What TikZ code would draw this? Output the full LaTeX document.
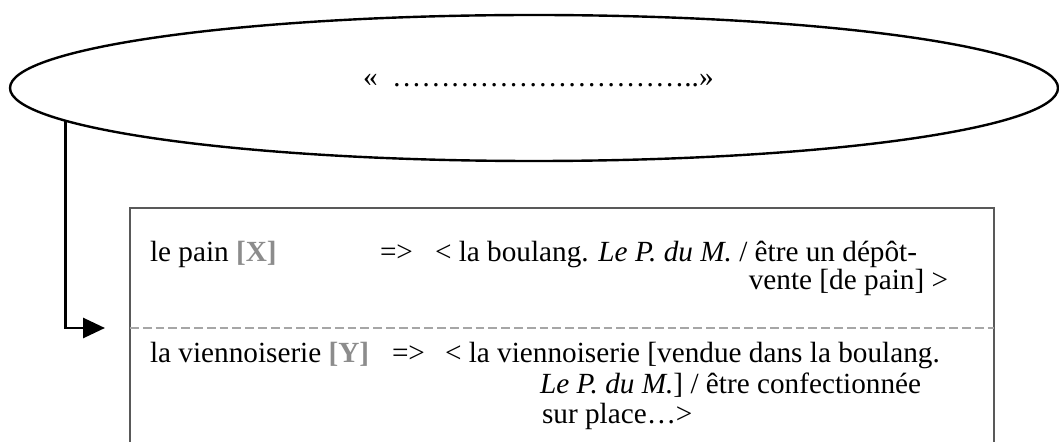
\documentclass[tikz,border=0pt]{standalone}
\usepackage{fontspec}
\setmainfont{Liberation Serif}
\usepackage{tikz}
\usetikzlibrary{calc,positioning,arrows.meta,shapes.geometric}

\begin{document}
\begin{tikzpicture}[baseline,every node/.style={inner sep=0pt,outer sep=0pt,font=\fontsize{20.8}{24}\selectfont}]
		%\draw[color=gray,step=1mm, help lines,opacity=0.3] (0mm,0mm) grid (265mm,110mm); %help grids
		\useasboundingbox (0mm,0mm) rectangle (264.75mm,110.25mm);
		\def\crochet#1{\textcolor{black!45}{\textbf{[#1]}}}
		\def\pts{…}
		\node[draw,ellipse,line width=0.6mm,minimum width=262mm,minimum height=36.5mm] (bulle) at (133.5mm,88.25mm) {};
		\node[anchor=base west] (guill) at (90.75mm,88.5mm) {«\hspace{3.6mm}\pts\pts\pts\pts\pts\pts\pts\pts\pts\pts..»};
		\node[draw=black!65,line width=0.4mm,anchor=north west,minimum width=216mm,minimum height=64mm] (tableau) at (32.5mm,58.25mm) {};
		\draw[color=black!35,line width=0.4mm,dash pattern=on 2.2mm off 1mm] (tableau.west |- 0mm,28.25mm)--(tableau.east |- 0mm,28.25mm);
		\coordinate (pointe) at (26.25mm,28.25mm);
		\draw[line width=0.7mm,-{Triangle[length=5.5mm,width=5mm]}] (bulle.184.05) |- (pointe);
		% premiere ligne
		\node[anchor=base west] (pain) at (37.5mm,44.75mm) {le pain \crochet{X}};
		\node[anchor=base west] (flpain) at (95mm,44.75mm) {=>};
		\node[anchor=base west] (defpain) at (108.75mm,44.75mm) {< la boulang. \textit{Le P. du M.} / être un dépôt-};
		\node[anchor=base east] (defpainb) at (237mm,37.75mm) {vente [de pain] >};
		% deuxieme ligne
		\node[anchor=base west] (vienn) at (37.5mm,19.75mm) {la viennoiserie \crochet{Y}};
		\node[anchor=base west] (flvienn) at (98mm,19.75mm) {=>};
		\node[anchor=base west] (defvienn) at (111.25mm,19.75mm) {< la viennoiserie [vendue dans la boulang.};
		\node[anchor=base west] (defviennb) at (135mm,12mm) {\textit{Le P. du M.}] / être confectionnée};
		\node[anchor=base west] (defviennc) at (135.5mm,4.5mm) {sur place…>};
\end{tikzpicture}
\end{document}
